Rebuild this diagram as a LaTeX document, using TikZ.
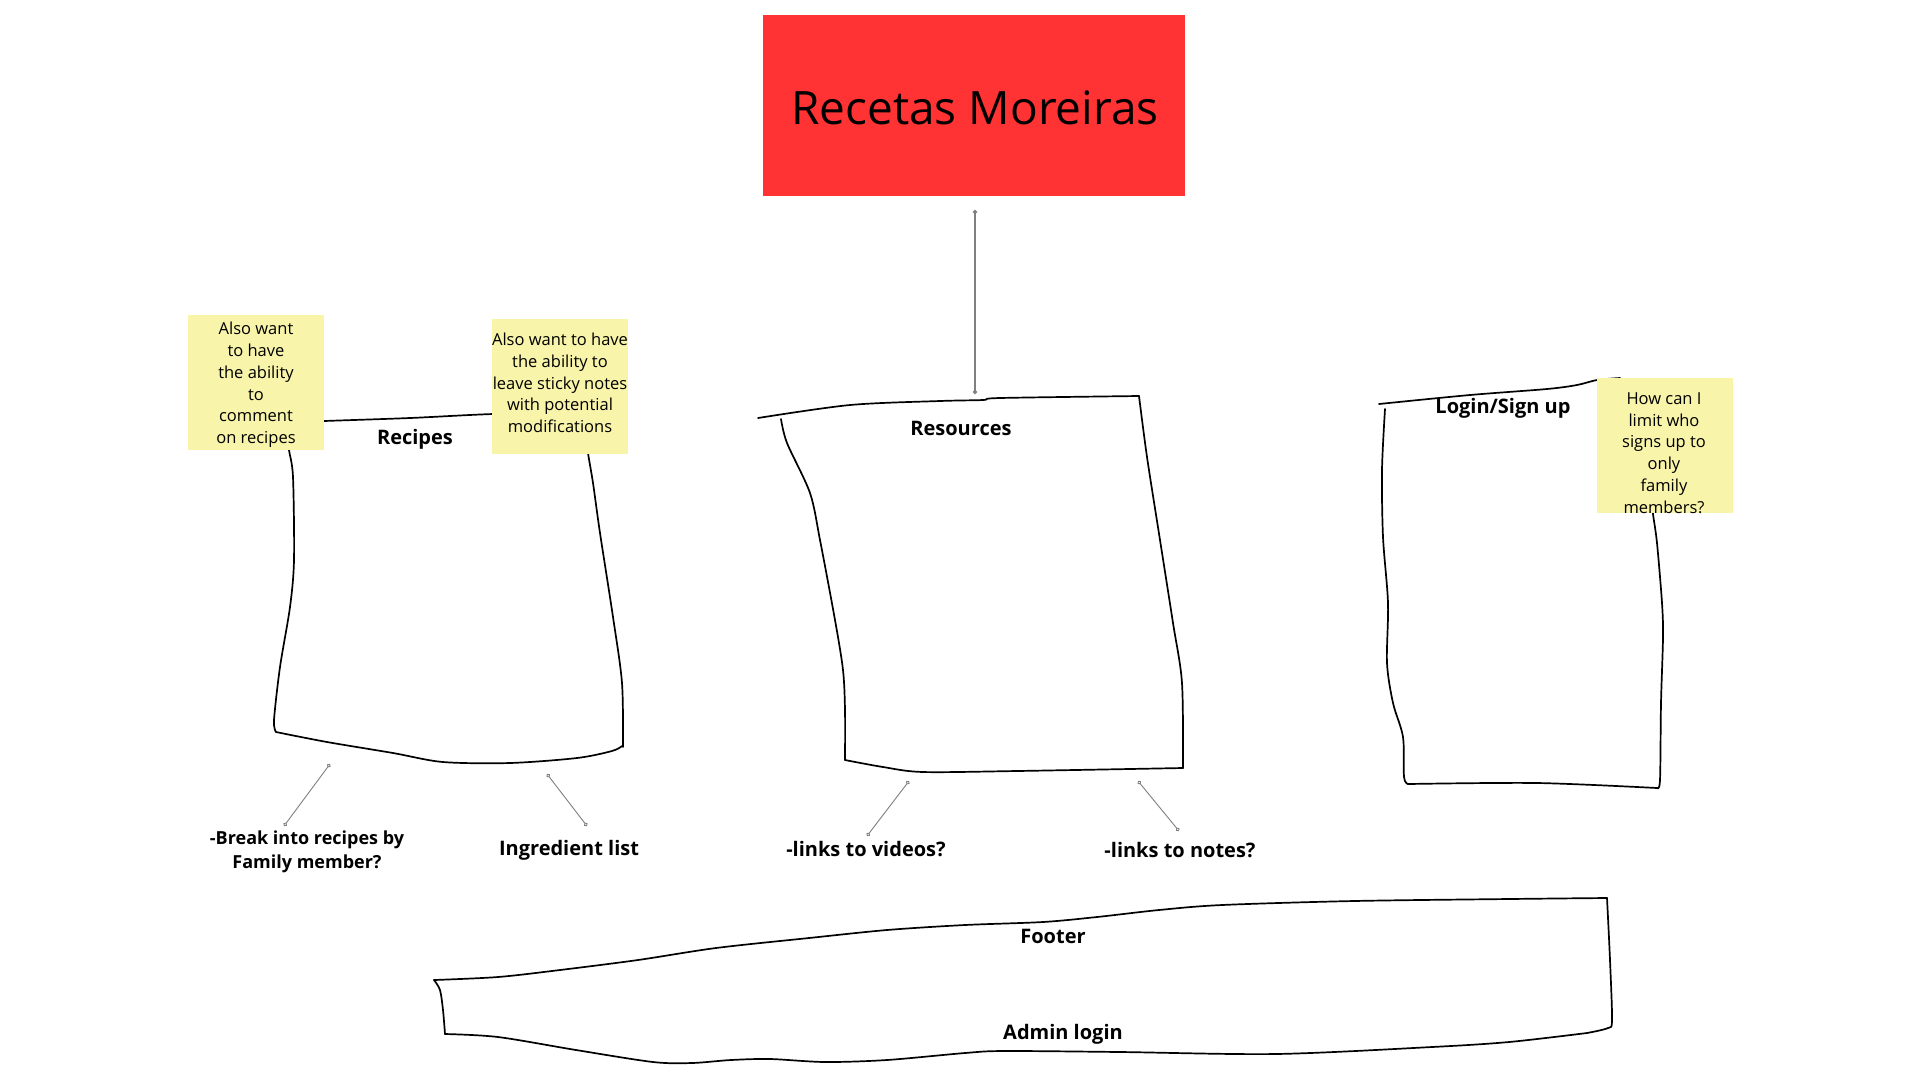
\documentclass[tikz,border=0pt]{standalone}
\usepackage{fontspec}
\setmainfont{Open Sans}
\usetikzlibrary{arrows.meta}
\definecolor{stickyc}{HTML}{F8F4A9}
\definecolor{titlered}{HTML}{FF3333}
\definecolor{conngray}{HTML}{808080}
\begin{document}
\begin{tikzpicture}[x=1pt,y=-1pt,
  hand/.style={line width=1.7pt, line cap=round, line join=round, black},
  sticky/.style={fill=stickyc, inner sep=0pt, minimum width=136pt, minimum height=135pt},
  stickytext/.style={inner sep=0pt, align=center, font=\fontsize{16.5}{21.8}\selectfont},
  lbl/.style={font=\fontsize{20}{24}\selectfont\bfseries, inner sep=0pt, align=center},
  conn/.style={draw=conngray, line width=0.9pt, {Circle[open,length=4pt,width=4pt]}-{Circle[open,length=4pt,width=4pt]}}
]
\useasboundingbox (0,0) rectangle (1920,1080);
\fill[white] (0,0) rectangle (1920,1080);

% Title
\node[fill=titlered, minimum width=422pt, minimum height=181pt, inner sep=0pt] (title) at (974,105.5) {};
\node[inner sep=0pt, font=\fontsize{46}{55}\selectfont] (titletext) at (975,108) {Recetas Moreiras};

% Recipes box
\draw[hand] plot[smooth] coordinates {(300,422) (324,421) (410,418) (493,414) (590,412)};
\draw[hand] plot[smooth] coordinates {(289,440) (289,450) (293,477) (294,560) (290,607) (280,667) (274,720) (276,732)};
\draw[hand] plot[smooth] coordinates {(276,732) (327,742) (393,753) (443,762) (510,763) (577,758) (612,751) (622,746)};
\draw[hand] plot[smooth] coordinates {(587,440) (588,453) (593,483) (600,533) (613,617) (622,683) (623,747)};

% Resources box
\draw[hand] plot[smooth] coordinates {(758,418) (850,405) (940,401) (983,400) (1000,398) (1139,396)};
\draw[hand] plot[smooth] coordinates {(781,419) (787,443) (810,493) (820,540) (835,620) (843,670) (845,710) (845,760)};
\draw[hand] plot[smooth] coordinates {(845,760) (883,767) (923,772) (1017,771) (1183,768)};
\draw[hand] plot[smooth] coordinates {(1139,396) (1147,457) (1160,540) (1173,623) (1182,683) (1183,768)};

% Login box
\draw[hand] plot[smooth] coordinates {(1379,404) (1470,395) (1547,389) (1577,385) (1597,380) (1620,378)};
\draw[hand] plot[smooth] coordinates {(1385,409) (1382,470) (1383,537) (1388,603) (1387,663) (1393,703) (1403,737) (1404,777) (1408,784)};
\draw[hand] plot[smooth] coordinates {(1408,784) (1537,783) (1657,788)};
\draw[hand] plot[smooth] coordinates {(1652,500) (1653,514) (1657,543) (1662,603) (1663,637) (1661,703) (1660,780) (1657,788)};

% Footer box
\draw[hand] plot[smooth] coordinates {(434,980) (498,977) (560,970) (638,960) (716,948) (809,938) (887,930) (965,925) (1043,922) (1097,917) (1159,910) (1222,905) (1354,901) (1509,899) (1607,898)};
\draw[hand] plot[smooth] coordinates {(1607,898) (1610,960) (1612,1020) (1608,1028) (1587,1033)};
\draw[hand] plot[smooth] coordinates {(1587,1033) (1509,1042) (1432,1047) (1276,1054) (1120,1052) (1004,1051) (965,1053) (887,1060) (825,1062) (770,1059) (731,1060) (692,1063) (653,1062) (576,1050) (498,1037) (445,1034)};
\draw[hand] plot[smooth] coordinates {(445,1034) (443,1010) (440,990) (434,980)};

% Sticky notes
\node[sticky] (s1) at (255.5,382) {};
\node[stickytext] (s1t) at (256,385) {Also want\\to have\\the ability\\to\\comment\\on recipes};
\node[sticky] (s2) at (560,386.5) {};
\node[stickytext] (s2t) at (560,383) {Also want to have\\the ability to\\leave sticky notes\\with potential\\modifications};
\node[sticky] (s3) at (1664.5,445.5) {};
\node[stickytext] (s3t) at (1664,453) {How can I\\limit who\\signs up to\\only\\family\\members?};

% Box labels
\node[lbl] (recipes) at (415,439) {Recipes};
\node[lbl] (resources) at (961,428) {Resources};
\node[lbl] (login) at (1503,408) {Login/Sign up};
\node[lbl] (footer) at (1053,936) {Footer};
\node[lbl] (admin) at (1063,1034) {Admin login};

% Bottom labels
\node[inner sep=0pt, align=center, font=\fontsize{18}{24.5}\selectfont\bfseries] (break) at (307,852) {-Break into recipes by\\Family member?};
\node[lbl] (ingr) at (569,850) {Ingredient list};
\node[lbl] (videos) at (866,849) {-links to videos?};
\node[lbl] (notes) at (1180,850) {-links to notes?};

% Connector end points
\coordinate (tA) at (975,210);
\coordinate (tB) at (975,394);
\coordinate (c1a) at (330,764);
\coordinate (c1b) at (284,826);
\coordinate (c2a) at (547,774);
\coordinate (c2b) at (587,826);
\coordinate (c3a) at (909,781);
\coordinate (c3b) at (867,836);
\coordinate (c4a) at (1138,781);
\coordinate (c4b) at (1179,831);

\draw[conn, line width=1.4pt] (tA) -- (tB);
\draw[conn] (c1a) -- (c1b);
\draw[conn] (c2a) -- (c2b);
\draw[conn] (c3a) -- (c3b);
\draw[conn] (c4a) -- (c4b);
\end{tikzpicture}
\end{document}
